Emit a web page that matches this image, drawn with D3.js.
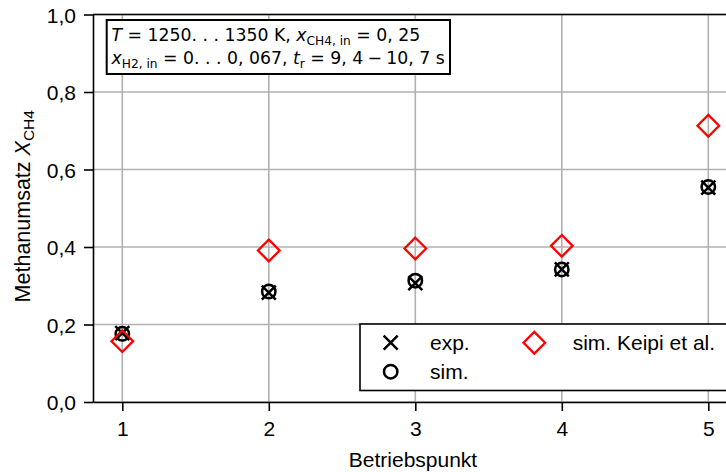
<!DOCTYPE html>
<html>
<head>
<meta charset="utf-8">
<script src="https://cdn.jsdelivr.net/npm/d3@7"></script>
<style>
  html, body { margin: 0; padding: 0; background: #fff; }
  svg { display: block; }
</style>
</head>
<body>
<svg id="chart" width="726" height="472"></svg>
<script>
// Operating points and methane conversion values
const points = [1, 2, 3, 4, 5];
const expValues = [0.178, 0.282, 0.307, 0.342, 0.553];
const simValues = [0.176, 0.285, 0.313, 0.342, 0.555];
const keipiValues = [0.157, 0.391, 0.396, 0.403, 0.713];
const xTicks = [1, 2, 3, 4, 5];
const yTicks = [0, 0.2, 0.4, 0.6, 0.8, 1.0];

const svg = d3.select("#chart");
const sansFont = "'Liberation Sans', Arial, sans-serif";
const mathFont = "'DejaVu Sans', sans-serif";
const fs = 21;

const x = d3.scaleLinear().domain([0.8, 5.2]).range([93, 737.6]);
const y = d3.scaleLinear().domain([0, 1]).range([402, 14.5]);
const fmt = d => d3.format(".1f")(d).replace(".", ",");

// grid
const grid = svg.append("g").attr("stroke", "#b0b0b0").attr("stroke-width", 1.6);
grid.selectAll(".gx").data(xTicks).enter().append("line")
  .attr("x1", d => x(d)).attr("x2", d => x(d))
  .attr("y1", y(0)).attr("y2", y(1));
grid.selectAll(".gy").data(yTicks).enter().append("line")
  .attr("x1", x(0.8)).attr("x2", x(5.2))
  .attr("y1", d => y(d)).attr("y2", d => y(d));

// axes
const xAxis = svg.append("g").attr("transform", `translate(0,${y(0)})`)
  .call(d3.axisBottom(x).tickValues(xTicks).tickFormat(d3.format("d")).tickSizeInner(9).tickSizeOuter(0).tickPadding(10));
const yAxis = svg.append("g").attr("transform", `translate(${x(0.8)},0)`)
  .call(d3.axisLeft(y).tickValues(yTicks).tickFormat(fmt).tickSizeInner(9).tickSizeOuter(0).tickPadding(8));
[xAxis, yAxis].forEach(a => {
  a.select(".domain").attr("stroke", "#000").attr("stroke-width", 1.6);
  a.selectAll(".tick line").attr("stroke", "#000").attr("stroke-width", 1.6);
  a.selectAll(".tick text").attr("font-family", sansFont).attr("font-size", fs).attr("fill", "#000");
});
yAxis.selectAll(".tick text").attr("dy", "0.36em");

// top spine
svg.append("line").attr("x1", x(0.8)).attr("x2", x(5.2)).attr("y1", y(1)).attr("y2", y(1))
  .attr("stroke", "#000").attr("stroke-width", 1.6);

// axis titles
svg.append("text").attr("x", 413).attr("y", 467)
  .attr("text-anchor", "middle").attr("font-family", sansFont).attr("font-size", fs)
  .text("Betriebspunkt");
const yl = svg.append("text").attr("transform", `translate(30,${(y(0) + y(1)) / 2 - 2}) rotate(-90)`)
  .attr("text-anchor", "middle").attr("font-family", sansFont).attr("font-size", 21.5);
yl.append("tspan").text("Methanumsatz ");
yl.append("tspan").attr("font-style", "italic").text("X");
yl.append("tspan").attr("font-size", 15.5).attr("dy", 4).text("CH4");

// marker shapes
function crossPath(s) { return `M${-s},${-s}L${s},${s}M${-s},${s}L${s},${-s}`; }
function diamondPath(s) { return `M0,${-s}L${s},0L0,${s}L${-s},0Z`; }

const marks = svg.append("g");
marks.selectAll(".exp").data(points).enter().append("path")
  .attr("transform", (d, i) => `translate(${x(d)},${y(expValues[i])})`)
  .attr("d", crossPath(7)).attr("stroke", "#000").attr("stroke-width", 2.5).attr("fill", "none");
marks.selectAll(".sim").data(points).enter().append("circle")
  .attr("cx", d => x(d)).attr("cy", (d, i) => y(simValues[i])).attr("r", 6.7)
  .attr("stroke", "#000").attr("stroke-width", 2.5).attr("fill", "none");
marks.selectAll(".keipi").data(points).enter().append("path")
  .attr("transform", (d, i) => `translate(${x(d)},${y(keipiValues[i])})`)
  .attr("d", diamondPath(10.8)).attr("stroke", "#ff0000").attr("stroke-width", 2.3).attr("fill", "none");

// legend
const lg = svg.append("g");
lg.append("rect").attr("x", 360).attr("y", 324).attr("width", 380).attr("height", 66.5)
  .attr("fill", "#fff").attr("stroke", "#000").attr("stroke-width", 1.6);
const legendItems = [
  { label: "exp.", mx: 390.7, my: 342.7, tx: 430, kind: "cross" },
  { label: "sim.", mx: 390.7, my: 371.7, tx: 430, kind: "circle" },
  { label: "sim. Keipi et al.", mx: 534.3, my: 342.7, tx: 572.7, kind: "diamond" }
];
legendItems.forEach(it => {
  if (it.kind === "cross") {
    lg.append("path").attr("transform", `translate(${it.mx},${it.my})`).attr("d", crossPath(7))
      .attr("stroke", "#000").attr("stroke-width", 2.5).attr("fill", "none");
  } else if (it.kind === "circle") {
    lg.append("circle").attr("cx", it.mx).attr("cy", it.my).attr("r", 6.7)
      .attr("stroke", "#000").attr("stroke-width", 2.5).attr("fill", "none");
  } else {
    lg.append("path").attr("transform", `translate(${it.mx},${it.my})`).attr("d", diamondPath(10.8))
      .attr("stroke", "#ff0000").attr("stroke-width", 2.3).attr("fill", "none");
  }
  lg.append("text").attr("x", it.tx).attr("y", it.my + 7.5).attr("font-family", sansFont)
    .attr("font-size", fs).text(it.label);
});

// operating conditions box
const ann = svg.append("g");
ann.append("rect").attr("x", 106.7).attr("y", 20).attr("width", 343.3).attr("height", 54)
  .attr("fill", "#fff").attr("stroke", "#000").attr("stroke-width", 2);
function mathLine(yPos, parts) {
  const t = ann.append("text").attr("x", 111.5).attr("y", yPos)
    .attr("font-family", mathFont).attr("font-size", 17.3);
  parts.forEach(p => {
    const s = t.append("tspan").text(p.t);
    if (p.i) s.attr("font-style", "italic");
    if (p.sub) s.attr("font-size", 12.2).attr("dy", 4);
    if (p.up) s.attr("dy", -4);
  });
}
mathLine(41, [
  { t: "T", i: true }, { t: " = 1250. . . 1350 K, " },
  { t: "x", i: true }, { t: "CH4, in", sub: true }, { t: " = 0, 25", up: true }
]);
mathLine(64, [
  { t: "x", i: true }, { t: "H2, in", sub: true }, { t: " = 0. . . 0, 067, ", up: true },
  { t: "t", i: true }, { t: "r", sub: true }, { t: " = 9, 4\u2005−\u200510, 7 s", up: true }
]);
</script>
</body>
</html>
